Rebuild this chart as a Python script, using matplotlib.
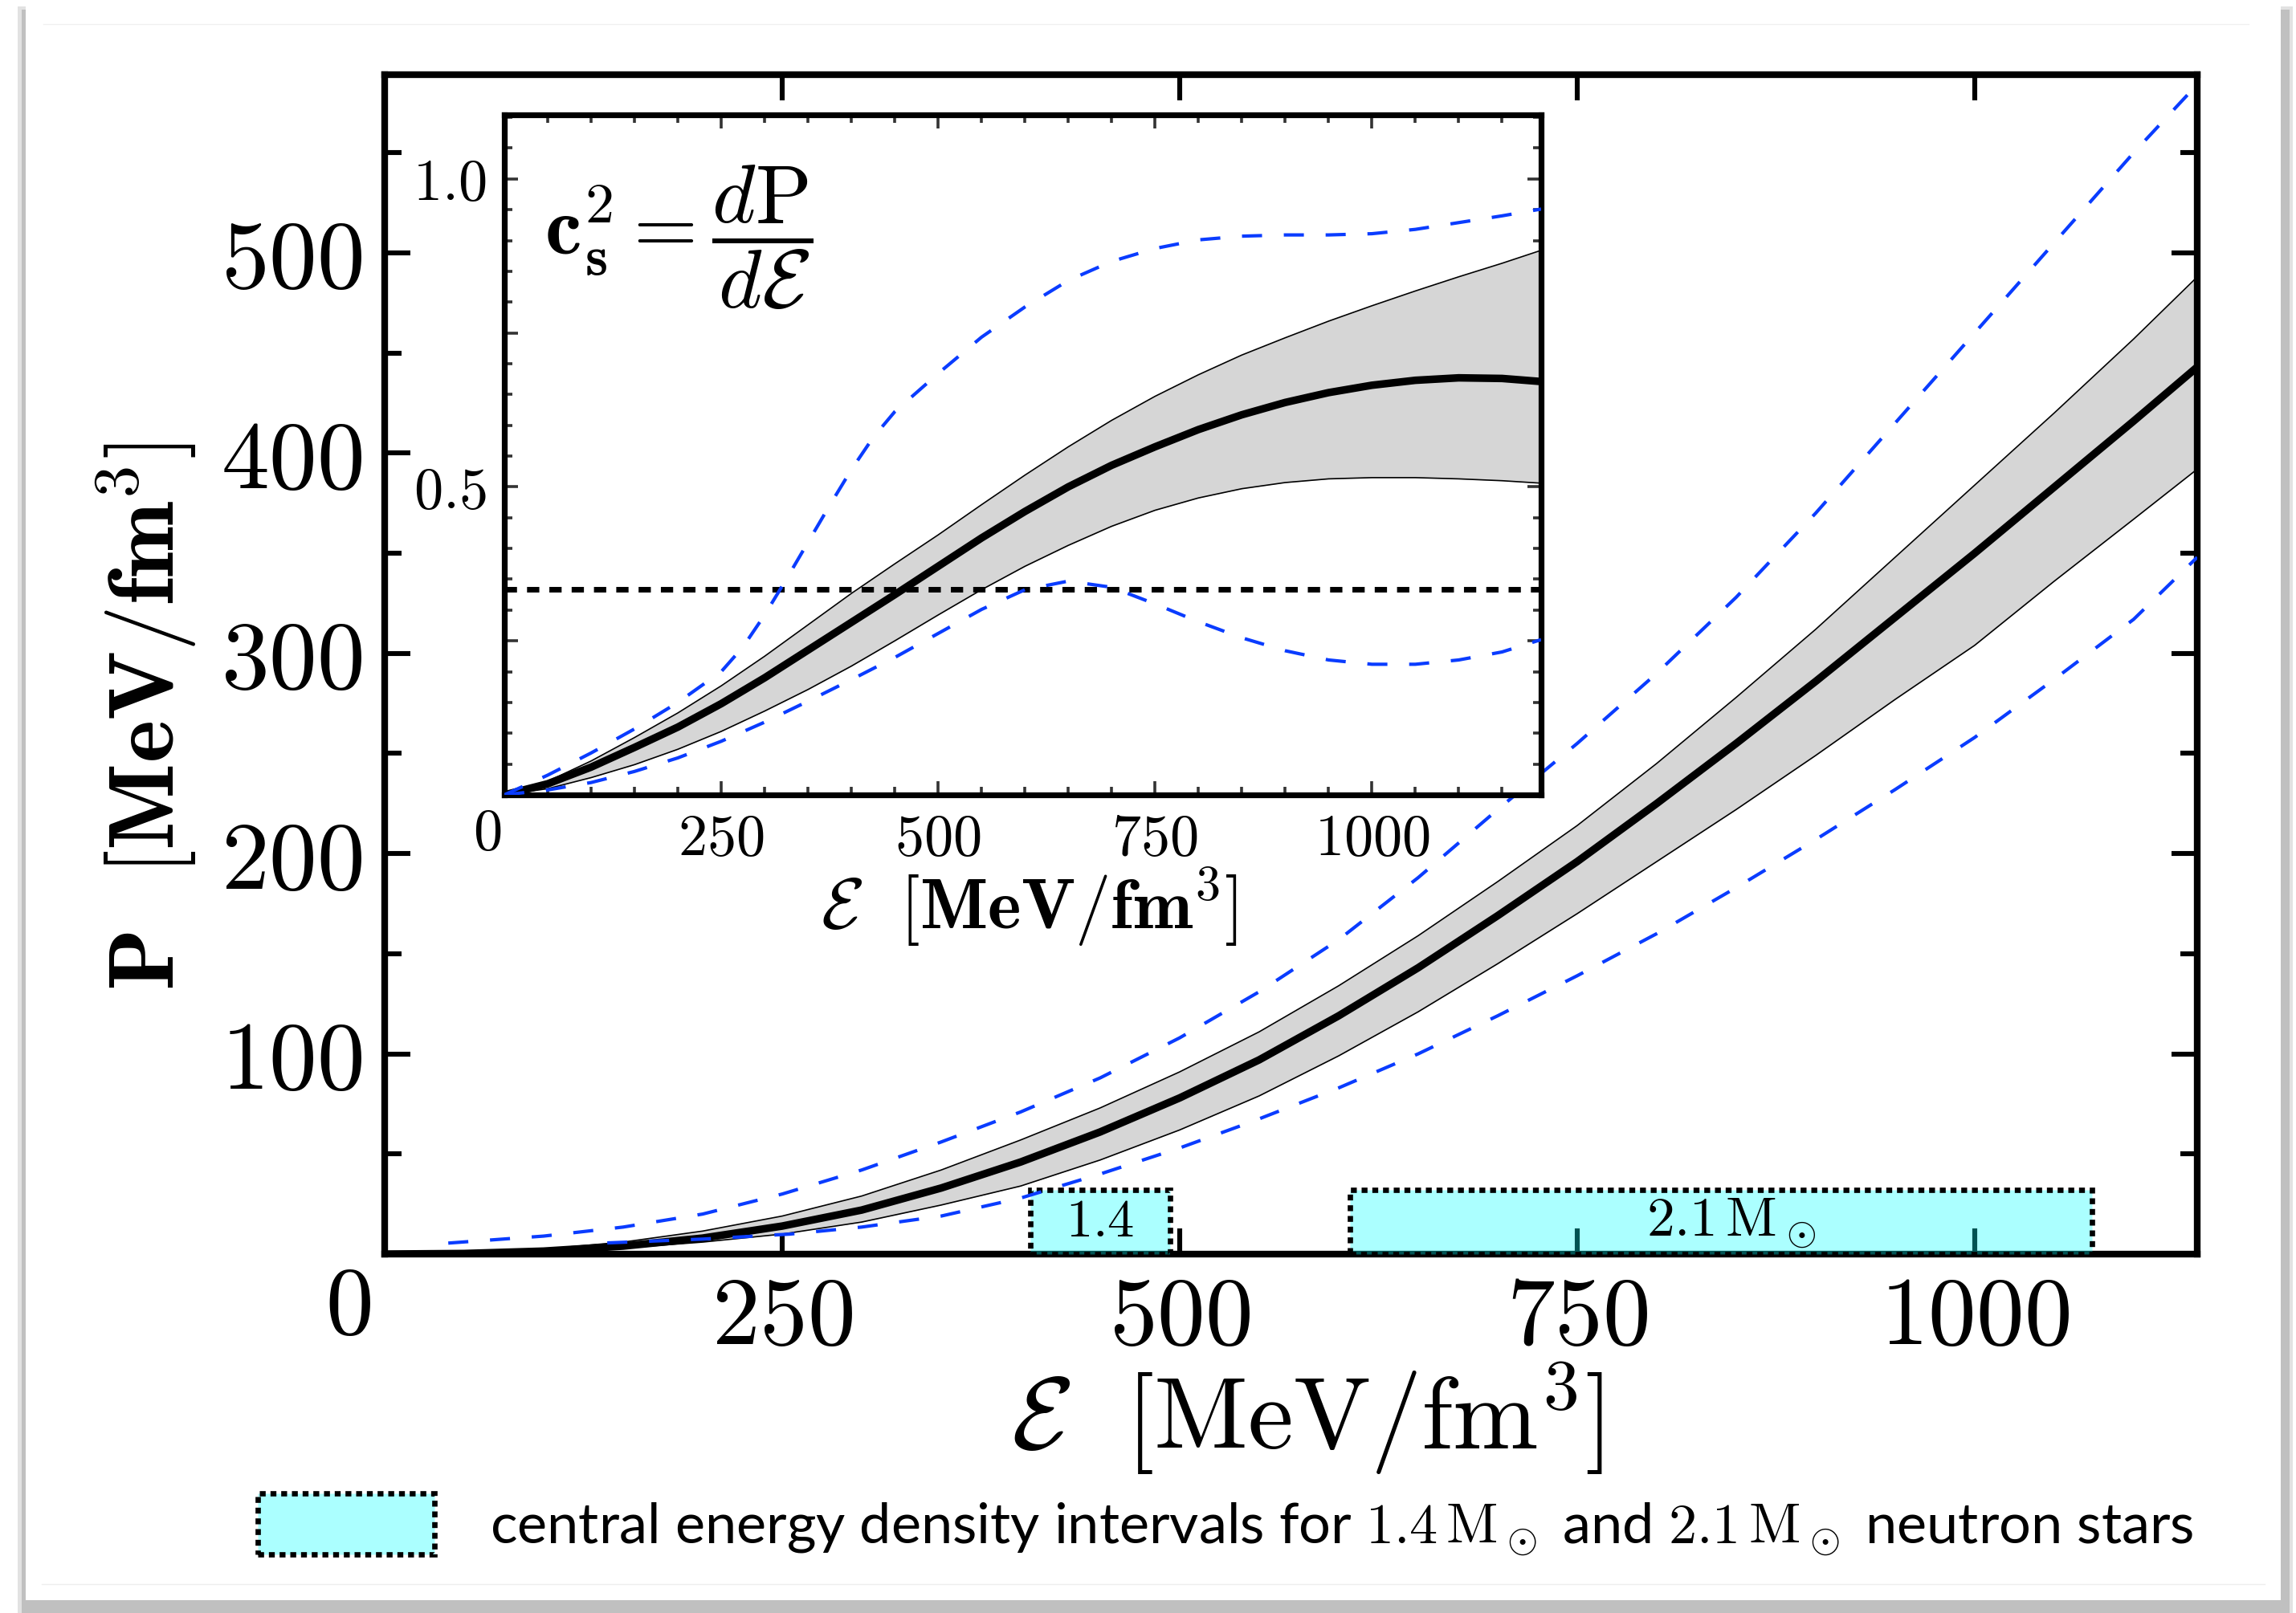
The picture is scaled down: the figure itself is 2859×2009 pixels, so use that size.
import numpy as np
import matplotlib
matplotlib.use('agg')
import matplotlib.pyplot as plt
from matplotlib.patches import Rectangle
from matplotlib.lines import Line2D
from matplotlib.ticker import MultipleLocator

plt.rcParams['mathtext.fontset'] = 'cm'
plt.rcParams['font.family'] = ['Lato', 'DejaVu Sans']

# ---- main panel: pressure vs energy density (MeV/fm^3)
e_main = [0, 50, 100, 150, 200, 250, 300, 350, 400, 450, 500, 550,
          600, 650, 700, 750, 800, 850, 900, 950, 1000, 1050, 1100, 1140]
p_mid = [0, 0.3, 1.5, 4, 8, 14, 22, 33, 46, 61, 78, 97,
         119, 143, 169, 196, 225, 255, 286, 318, 350, 383, 416, 443]
p_hi = [0, 0.6, 2.5, 6, 11.5, 19, 29, 42, 57, 73, 91, 111,
        134, 159, 186, 214, 245, 278, 312, 348, 384, 420, 457, 488]
p_lo = [0, 0.1, 1, 3, 6, 10, 16, 24.5, 34, 47, 62, 79,
        99, 121, 145, 170, 196, 222, 249, 277, 304, 336, 367, 392]

e_bup = [40, 100, 150, 200, 250, 300, 350, 400, 450, 500, 550, 600,
         650, 700, 750, 800, 850, 900, 950, 1000, 1050, 1100, 1134]
p_bup = [5.5, 9, 13.5, 20, 30, 42, 56, 71, 88, 108, 131, 157,
         188, 222, 255, 290, 328, 370, 415, 460, 505, 550, 579]
e_blo = [140, 200, 255, 300, 350, 400, 450, 500, 545, 600, 650, 700,
         750, 800, 850, 900, 950, 1000, 1050, 1100, 1140]
p_blo = [5.6, 7.5, 10, 13.5, 19, 28, 40, 53, 66, 83, 100, 119,
         139, 160, 183, 207, 232, 258, 287, 317, 348]

# central energy density intervals (E range) for the two star masses
box_14 = (406, 494)
box_21 = (607, 1074)
box_top = 32

# ---- inset: speed of sound squared
e_in = [0, 50, 100, 150, 200, 250, 300, 350, 400, 450, 500, 550, 600,
        650, 700, 750, 800, 850, 900, 950, 1000, 1050, 1100, 1150, 1195]
cs_mid = [0, 0.018, 0.045, 0.077, 0.11, 0.148, 0.19, 0.235, 0.28, 0.325, 0.371, 0.417, 0.46,
          0.5, 0.535, 0.565, 0.593, 0.617, 0.637, 0.653, 0.665, 0.673, 0.677, 0.676, 0.671]
cs_hi = [0, 0.022, 0.055, 0.093, 0.133, 0.177, 0.225, 0.276, 0.327, 0.375, 0.422, 0.471, 0.519,
         0.565, 0.608, 0.647, 0.682, 0.714, 0.742, 0.769, 0.794, 0.818, 0.841, 0.863, 0.884]
cs_lo = [0, 0.01, 0.028, 0.049, 0.074, 0.103, 0.136, 0.171, 0.209, 0.25, 0.292, 0.333, 0.371,
         0.405, 0.436, 0.462, 0.482, 0.497, 0.507, 0.513, 0.515, 0.515, 0.513, 0.51, 0.506]
cs_blo = [0, 0.008, 0.02, 0.038, 0.06, 0.087, 0.118, 0.152, 0.187, 0.223, 0.262, 0.301, 0.333,
          0.347, 0.337, 0.31, 0.281, 0.255, 0.234, 0.219, 0.212, 0.212, 0.219, 0.232, 0.252]
e_cup = [0, 50, 100, 150, 200, 250, 275, 300, 325, 350, 375, 400, 425, 450, 500,
         550, 600, 650, 700, 750, 800, 850, 900, 950, 1000, 1050, 1100, 1150, 1195]
cs_bup = [0, 0.032, 0.068, 0.107, 0.15, 0.2, 0.24, 0.292, 0.35, 0.41, 0.47, 0.528, 0.58, 0.622, 0.684,
          0.743, 0.792, 0.835, 0.866, 0.887, 0.901, 0.907, 0.909, 0.909, 0.911, 0.918, 0.929, 0.94, 0.951]
conformal = 1.0 / 3.0

W, H = 2859, 2009
BLUE = '#0a3cff'
BAND = '#d6d6d6'
CYAN = (0.0, 1.0, 1.0, 0.33)


def fr(x, y, w, h):
    # pixel box (top-left origin) -> figure fraction rect
    return [x / W, 1 - (y + h) / H, w / W, h / H]


fig = plt.figure(figsize=(W / 200, H / 200), dpi=200)
fig.patch.set_facecolor('white')

# card with a soft drop shadow
for (x0, y0, x1, y1, c) in [(22, 8, 2855, 2009, '#e2e2e2'),
                            (27, 12, 2851, 2009, '#c0c0c0'),
                            (32, 7, 2840, 1993, 'white')]:
    fig.add_artist(Rectangle((x0 / W, 1 - y1 / H), (x1 - x0) / W, (y1 - y0) / H,
                             transform=fig.transFigure, facecolor=c,
                             edgecolor='none', zorder=-5))
fig.add_artist(Line2D([52 / W, 2820 / W], [1 - 1973 / H] * 2, transform=fig.transFigure,
                      color='#eeeeee', lw=0.5, zorder=-4))
fig.add_artist(Line2D([54 / W, 2800 / W], [1 - 30 / H] * 2, transform=fig.transFigure,
                      color='#f0f0f0', lw=0.5, zorder=-4))

# ---------------- main axes
ax = fig.add_axes(fr(479, 93, 2736 - 479, 1562 - 93))
ax.fill_between(e_main, p_lo, p_hi, color=BAND, lw=0, zorder=2)
ax.plot(e_main, p_hi, color='black', lw=0.6, zorder=2.2)
ax.plot(e_main, p_lo, color='black', lw=0.6, zorder=2.2)
ax.plot(e_main, p_mid, color='black', lw=3.4, zorder=4, solid_capstyle='butt')
ax.plot(e_bup, p_bup, color=BLUE, lw=1.5, dashes=(6, 6.5), zorder=4)
ax.plot(e_blo, p_blo, color=BLUE, lw=1.5, dashes=(6, 6.5), zorder=4)

for (a, b) in (box_14, box_21):
    ax.add_patch(Rectangle((a, 0), b - a, box_top, facecolor=CYAN, edgecolor='black',
                           lw=2.4, linestyle=(0, (1.1, 0.9)), zorder=3, clip_on=False))
ax.text(450, 8.8, r'$\mathbf{1.4}$', ha='center', va='baseline', fontsize=24, zorder=5)
ax.text(847, 8.8, r'$\mathbf{2.1}\,\mathrm{M}_\odot$', ha='center', va='baseline', fontsize=25, zorder=5)

ax.set_xlim(0, 1140)
ax.set_ylim(2, 589)
ax.set_xticks([0, 250, 500, 750, 1000])
ax.set_xticklabels(['', r'$250$', r'$500$', r'$750$', r'$1000$'])
ax.set_yticks([0, 100, 200, 300, 400, 500])
ax.set_yticklabels(['', r'$100$', r'$200$', r'$300$', r'$400$', r'$500$'])
ax.yaxis.set_minor_locator(MultipleLocator(50))
ax.tick_params(which='both', direction='in', top=True, right=True, width=2.2, labelsize=43)
ax.tick_params(which='major', length=11.5)
ax.tick_params(which='minor', length=7.5)
ax.tick_params(axis='x', pad=9)
ax.tick_params(axis='y', pad=10)
for s in ax.spines.values():
    s.set_linewidth(3)
fig.text(433 / W, 1 - 1628 / H, r'$0$', ha='center', va='center', fontsize=43)

fig.text(1628 / W, 1 - 1767 / H, r'$\mathcal{E}\ \ [\mathrm{MeV/fm}^3]$',
         ha='center', va='center', fontsize=46)
fig.text(182 / W, 1 - 893 / H, r'$\mathbf{P}\ \ [\mathbf{MeV/fm}^\mathbf{3}]$',
         ha='center', va='center', fontsize=41, rotation=90)

# ---------------- inset
axin = fig.add_axes(fr(628, 143, 1919 - 628, 990 - 143))
axin.set_facecolor('white')
axin.fill_between(e_in, cs_lo, cs_hi, color=BAND, lw=0, zorder=2)
axin.plot(e_in, cs_hi, color='black', lw=0.6, zorder=2.2)
axin.plot(e_in, cs_lo, color='black', lw=0.6, zorder=2.2)
axin.plot(e_in, cs_mid, color='black', lw=3.4, zorder=4)
axin.plot(e_cup, cs_bup, color=BLUE, lw=1.5, dashes=(6, 6.5), zorder=4)
axin.plot(e_in, cs_blo, color=BLUE, lw=1.5, dashes=(6, 6.5), zorder=4)
axin.axhline(conformal, color='black', lw=2.5, dashes=(2.2, 1.8), zorder=3)

axin.set_xlim(5, 1195)
axin.set_ylim(0, 1.104)
axin.set_xticks([0, 250, 500, 750, 1000])
axin.set_xticklabels(['', r'$250$', r'$500$', r'$750$', r'$1000$'])
axin.xaxis.set_minor_locator(MultipleLocator(50))
axin.set_yticks([0, 0.25, 0.5, 0.75, 1.0])
axin.set_yticklabels(['', '', r'$0.5$', '', r'$1.0$'])
axin.yaxis.set_minor_locator(MultipleLocator(0.05))
axin.tick_params(which='both', direction='in', top=True, right=True, width=1.3,
                 color='#333333', labelsize=26, pad=8)
axin.tick_params(which='major', length=6)
axin.tick_params(which='minor', length=3.5)
for s in axin.spines.values():
    s.set_linewidth(2.6)
fig.text(607 / W, 1 - 1037 / H, r'$0$', ha='center', va='center', fontsize=26)
fig.text(1281 / W, 1 - 1130 / H, r'$\mathcal{E}\ \ [\mathbf{MeV/fm}^\mathbf{3}]$',
         ha='center', va='center', fontsize=32)
axin.text(0.168, 0.82, r'$\mathbf{c}_\mathbf{s}^\mathbf{2} = \dfrac{d\mathrm{P}}{d\mathcal{E}}$',
          transform=axin.transAxes, ha='center', va='center', fontsize=37)

# ---------------- legend strip
fig.add_artist(Rectangle((321 / W, 1 - 1936 / H), 220 / W, 76 / H, transform=fig.transFigure,
                         facecolor=CYAN, edgecolor='black', lw=2.4,
                         linestyle=(0, (1.1, 0.9))))
fig.text(610 / W, 1 - 1923 / H,
         r'central energy density intervals for $\mathbf{1.4}\,\mathrm{M}_\odot$ and '
         r'$\mathbf{2.1}\,\mathrm{M}_\odot$ neutron stars',
         ha='left', va='baseline', fontsize=25.3)

fig.savefig('out.png', dpi=200)
